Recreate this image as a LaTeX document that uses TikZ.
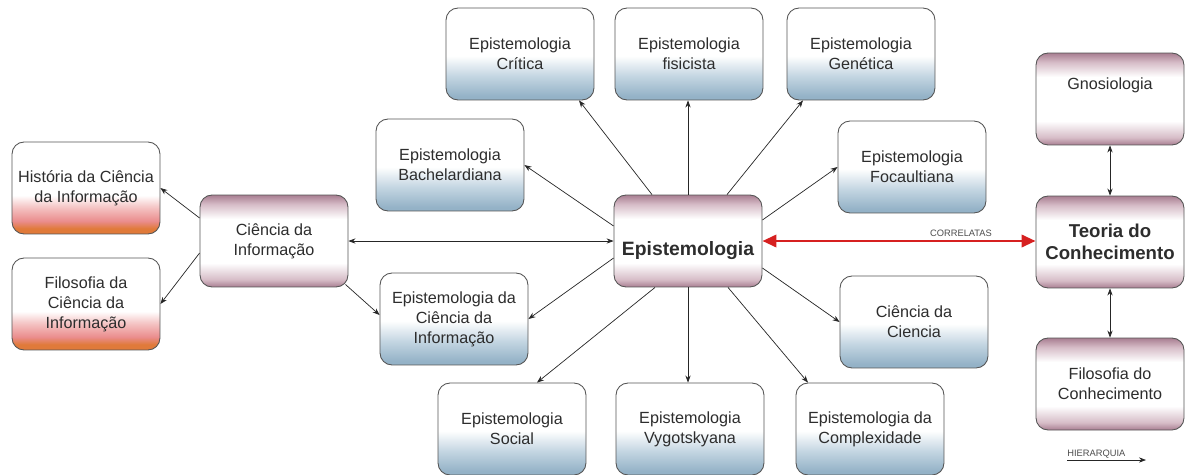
\documentclass[tikz,border=0pt]{standalone}
\usepackage{fontspec}
\setmainfont{Liberation Sans}
\usetikzlibrary{arrows.meta,calc}
\definecolor{bd}{RGB}{148,178,199}
\definecolor{bm}{RGB}{196,214,226}
\definecolor{mv}{RGB}{168,126,145}
\definecolor{mvl}{RGB}{214,188,199}
\definecolor{org}{RGB}{224,122,58}
\definecolor{rp}{RGB}{234,140,140}
\definecolor{rpl}{RGB}{245,200,200}
\definecolor{edge}{RGB}{85,85,85}
\definecolor{txt}{RGB}{45,45,45}
\definecolor{redarrow}{RGB}{214,32,32}
\pgfdeclareverticalshading{blueshade}{100bp}{color(0bp)=(bd); color(27bp)=(bd); color(38bp)=(bm); color(49bp)=(white); color(100bp)=(white)}
\pgfdeclareverticalshading{mauveshade}{100bp}{color(0bp)=(mv); color(25bp)=(mv); color(29bp)=(mvl); color(38bp)=(white); color(62bp)=(white); color(70bp)=(mvl); color(75bp)=(mv); color(100bp)=(mv)}
\pgfdeclareverticalshading{redshade}{100bp}{color(0bp)=(org); color(28bp)=(org); color(32bp)=(rp); color(40bp)=(rpl); color(46bp)=(white); color(100bp)=(white)}
\begin{document}
\begin{tikzpicture}[x=0.02cm,y=-0.02cm,
  box/.style={draw=edge, line width=0.5pt, rounded corners=0.24cm, align=center, text=txt,
    font=\fontsize{9.2}{11.4}\selectfont, inner sep=0pt, minimum width=2.96cm, minimum height=1.84cm},
  bluebox/.style={box, shade, shading=blueshade},
  mauvebox/.style={box, shade, shading=mauveshade},
  redbox/.style={box, shade, shading=redshade},
  arr/.style={draw=black!85, line width=0.4pt, -{Stealth[length=4pt,width=3pt]}},
  darr/.style={draw=black!85, line width=0.4pt, {Stealth[length=4pt,width=3pt]}-{Stealth[length=4pt,width=3pt]}},
  redarr/.style={draw=redarrow, line width=1.6pt, {Triangle[length=8pt,width=7pt]}-{Triangle[length=8pt,width=7pt]}},
  smalltext/.style={text=black!70, font=\fontsize{5.3}{6}\selectfont, inner sep=1pt}]
\useasboundingbox (0,0) rectangle (1193,474);
% left group
\node[redbox] (hist) at (86,188) {História da Ciência\\da Informação};
\node[redbox] (filci) at (86,304) {Filosofia da\\Ciência da\\Informação};
\node[mauvebox] (ci) at (274,241) {Ciência da\\Informação};
\node[bluebox] (epci) at (454,319) {Epistemologia da\\Ciência da\\Informação};
% center
\node[mauvebox, font=\fontsize{11}{13}\bfseries] (epi) at (688,241) {\raisebox{-0.2cm}[\height][\depth]{Epistemologia}};
\node[bluebox] (bach) at (450,165) {Epistemologia\\Bachelardiana};
\node[bluebox] (crit) at (520,54) {Epistemologia\\Crítica};
\node[bluebox] (fis) at (689,54) {Epistemologia\\fisicista};
\node[bluebox] (gen) at (861,54) {Epistemologia\\Genética};
\node[bluebox] (foc) at (912,167) {Epistemologia\\Focaultiana};
\node[bluebox] (cc) at (914,322) {Ciência da\\Ciencia};
\node[bluebox] (soc) at (512,429) {Epistemologia\\Social};
\node[bluebox] (vyg) at (690,429) {Epistemologia\\Vygotskyana};
\node[bluebox] (comp) at (870,429) {Epistemologia da\\Complexidade};
% right column
\node[mauvebox] (gno) at (1110,99) {\raisebox{0.28cm}[\height][\depth]{Gnosiologia}};
\node[mauvebox, font=\fontsize{10.6}{12.2}\bfseries] (teo) at (1110,242) {Teoria do\\Conhecimento};
\node[mauvebox] (filc) at (1110,384) {Filosofia do\\Conhecimento};
% connectors from Epistemologia
\draw[arr] ($(epi.north)+(-36,0)$) -- ($(crit.south)+(59,0)$);
\draw[arr] (epi.north) -- (epi.north |- fis.south);
\draw[arr] ($(epi.north)+(39,0)$) -- ($(gen.south)+(-58,0)$);
\draw[arr] ($(epi.east)+(0,-21)$) -- (foc.west);
\draw[arr] ($(epi.west)+(0,-15)$) -- (bach.east);
\draw[arr] ($(epi.west)+(0,17)$) -- (epci.east);
\draw[arr] ($(epi.east)+(0,27)$) -- (cc.west);
\draw[arr] ($(epi.south)+(-33,0)$) -- ($(soc.north)+(25,0)$);
\draw[arr] (epi.south) -- (epi.south |- vyg.north);
\draw[arr] ($(epi.south)+(40,0)$) -- ($(comp.north)+(-62,0)$);
% Ciência da Informação
\draw[darr] (ci.east) -- (ci.east -| epi.west);
\draw[arr] ($(ci.west)+(0,-23)$) -- (hist.east);
\draw[arr] ($(ci.west)+(0,12)$) -- (filci.east);
\draw[arr] ($(ci.south east)+(-3,-3)$) -- ($(epci.west)+(0,-4)$);
% correlatas
\draw[redarr] (epi.east) -- (epi.east -| teo.west);
\node[smalltext, anchor=south] (corr) at (961,239) {CORRELATAS};
% hierarchy
\draw[darr] (gno.south) -- (teo.north);
\draw[darr] (teo.south) -- (filc.north);
\coordinate (h1) at (1067,460);
\coordinate (h2) at (1146,460);
\draw[arr] (h1) -- (h2);
\node[smalltext, anchor=south west, inner xsep=0pt] (hier) at (h1) {HIERARQUIA};
\end{tikzpicture}
\end{document}
